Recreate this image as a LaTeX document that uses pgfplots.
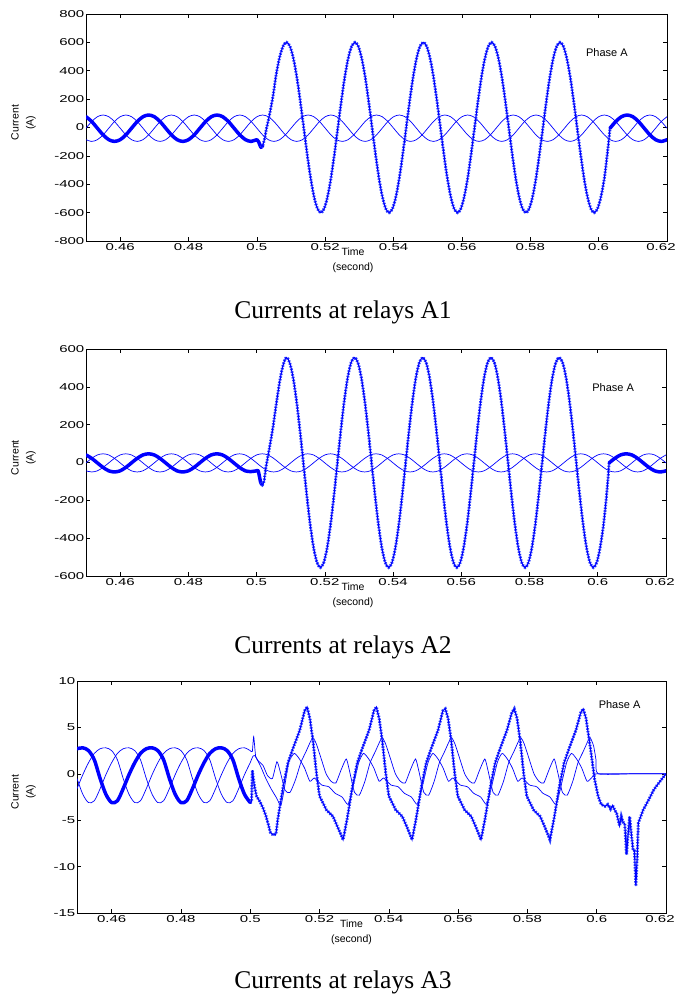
\documentclass[border=0pt]{standalone}
\usepackage{fontspec}
\setmainfont{Liberation Serif}
\setsansfont{Liberation Sans}
\usepackage{graphicx}
\usepackage{pgfplots}
\usepackage{pgfplotstable}
\pgfplotsset{compat=1.18}
\definecolor{pblue}{RGB}{0,0,255}
\definecolor{mblue}{RGB}{50,70,255}
\newcommand{\tl}[1]{\scalebox{1.5}[1]{#1}}

% thin phases B and C, panels A1 and A2
\pgfplotstableread{
t B1 C1 B2 C2
0.45000 -5 -86 -2 -44
0.45167 42 -98 22 -50
0.45333 76 -86 40 -44
0.45500 88 -52 46 -26
0.45667 76 -5 40 -2
0.45833 42 42 22 22
0.46000 -5 76 -2 40
0.46167 -52 88 -26 46
0.46333 -86 76 -44 40
0.46500 -98 42 -50 22
0.46667 -86 -5 -44 -2
0.46833 -52 -52 -26 -26
0.47000 -5 -86 -2 -44
0.47167 42 -98 22 -50
0.47333 76 -86 40 -44
0.47500 88 -52 46 -26
0.47667 76 -5 40 -2
0.47833 42 42 22 22
0.48000 -5 76 -2 40
0.48167 -52 88 -26 46
0.48333 -86 76 -44 40
0.48500 -98 42 -50 22
0.48667 -86 -5 -44 -2
0.48833 -52 -52 -26 -26
0.49000 -5 -86 -2 -44
0.49167 42 -98 22 -50
0.49333 76 -86 40 -44
0.49500 88 -52 46 -26
0.49667 76 -5 40 -2
0.49833 42 42 22 22
0.50000 -5 76 -2 40
0.50167 -52 88 -26 46
0.50333 -86 76 -44 40
0.50500 -98 42 -50 22
0.50667 -86 -5 -44 -2
0.50833 -52 -52 -26 -26
0.51000 -5 -86 -2 -44
0.51167 42 -98 22 -50
0.51333 76 -86 40 -44
0.51500 88 -52 46 -26
0.51667 76 -5 40 -2
0.51833 42 42 22 22
0.52000 -5 76 -2 40
0.52167 -52 88 -26 46
0.52333 -86 76 -44 40
0.52500 -98 42 -50 22
0.52667 -86 -5 -44 -2
0.52833 -52 -52 -26 -26
0.53000 -5 -86 -2 -44
0.53167 42 -98 22 -50
0.53333 76 -86 40 -44
0.53500 88 -52 46 -26
0.53667 76 -5 40 -2
0.53833 42 42 22 22
0.54000 -5 76 -2 40
0.54167 -52 88 -26 46
0.54333 -86 76 -44 40
0.54500 -98 42 -50 22
0.54667 -86 -5 -44 -2
0.54833 -52 -52 -26 -26
0.55000 -5 -86 -2 -44
0.55167 42 -98 22 -50
0.55333 76 -86 40 -44
0.55500 88 -52 46 -26
0.55667 76 -5 40 -2
0.55833 42 42 22 22
0.56000 -5 76 -2 40
0.56167 -52 88 -26 46
0.56333 -86 76 -44 40
0.56500 -98 42 -50 22
0.56667 -86 -5 -44 -2
0.56833 -52 -52 -26 -26
0.57000 -5 -86 -2 -44
0.57167 42 -98 22 -50
0.57333 76 -86 40 -44
0.57500 88 -52 46 -26
0.57667 76 -5 40 -2
0.57833 42 42 22 22
0.58000 -5 76 -2 40
0.58167 -52 88 -26 46
0.58333 -86 76 -44 40
0.58500 -98 42 -50 22
0.58667 -86 -5 -44 -2
0.58833 -52 -52 -26 -26
0.59000 -5 -86 -2 -44
0.59167 42 -98 22 -50
0.59333 76 -86 40 -44
0.59500 88 -52 46 -26
0.59667 76 -5 40 -2
0.59833 42 42 22 22
0.60000 -5 76 -2 40
0.60167 -52 88 -26 46
0.60333 -86 76 -44 40
0.60500 -98 42 -50 22
0.60667 -86 -5 -44 -2
0.60833 -52 -52 -26 -26
0.61000 -5 -86 -2 -44
0.61167 42 -98 22 -50
0.61333 76 -86 40 -44
0.61500 88 -52 46 -26
0.61667 76 -5 40 -2
0.61833 42 42 22 22
0.62000 -5 76 -2 40
}\tabT

% phase A before the fault, panels A1 and A2
\pgfplotstableread{
t A1 A2
0.45000 76 40
0.45167 42 22
0.45333 -5 -2
0.45500 -52 -26
0.45667 -86 -44
0.45833 -98 -50
0.46000 -86 -44
0.46167 -52 -26
0.46333 -5 -2
0.46500 42 22
0.46667 76 40
0.46833 88 46
0.47000 76 40
0.47167 42 22
0.47333 -5 -2
0.47500 -52 -26
0.47667 -86 -44
0.47833 -98 -50
0.48000 -86 -44
0.48167 -52 -26
0.48333 -5 -2
0.48500 42 22
0.48667 76 40
0.48833 88 46
0.49000 76 40
0.49167 42 22
0.49333 -5 -2
0.49500 -52 -26
0.49667 -86 -44
0.49833 -98 -48
0.50000 -86 -44
0.50050 -100 -46
0.50120 -140 -105
0.50170 -125 -118
}\tabPre

% phase A after clearing, panels A1 and A2
\pgfplotstableread{
t A1 A2
0.60333 -5 -2
0.60500 42 22
0.60667 76 40
0.60833 88 46
0.61000 76 40
0.61167 42 22
0.61333 -5 -2
0.61500 -52 -26
0.61667 -86 -44
0.61833 -98 -50
0.62000 -86 -44
}\tabPost

% phase A during the fault, panels A1 and A2
\pgfplotstableread{
t F1 F2
0.50120 -140 -105
0.50170 -125 -118
0.50220 -85 -98
0.50270 -20 -30
0.50370 90 70
0.50470 220 175
0.50570 380 300
0.50670 500 420
0.50770 575 510
0.50870 600 555
0.5097 571 528
0.5107 485 449
0.5117 353 326
0.5127 185 171
0.5137 0 0
0.5147 -185 -171
0.5157 -353 -326
0.5167 -485 -449
0.5177 -571 -528
0.5187 -600 -555
0.5197 -571 -528
0.5207 -485 -449
0.5217 -353 -326
0.5227 -185 -171
0.5237 0 0
0.5247 185 171
0.5257 353 326
0.5267 485 449
0.5277 571 528
0.5287 600 555
0.5297 571 528
0.5307 485 449
0.5317 353 326
0.5327 185 171
0.5337 0 0
0.5347 -185 -171
0.5357 -353 -326
0.5367 -485 -449
0.5377 -571 -528
0.5387 -600 -555
0.5397 -571 -528
0.5407 -485 -449
0.5417 -353 -326
0.5427 -185 -171
0.5437 0 0
0.5447 185 171
0.5457 353 326
0.5467 485 449
0.5477 571 528
0.5487 600 555
0.5497 571 528
0.5507 485 449
0.5517 353 326
0.5527 185 171
0.5537 0 0
0.5547 -185 -171
0.5557 -353 -326
0.5567 -485 -449
0.5577 -571 -528
0.5587 -600 -555
0.5597 -571 -528
0.5607 -485 -449
0.5617 -353 -326
0.5627 -185 -171
0.5637 0 0
0.5647 185 171
0.5657 353 326
0.5667 485 449
0.5677 571 528
0.5687 600 555
0.5697 571 528
0.5707 485 449
0.5717 353 326
0.5727 185 171
0.5737 0 0
0.5747 -185 -171
0.5757 -353 -326
0.5767 -485 -449
0.5777 -571 -528
0.5787 -600 -555
0.5797 -571 -528
0.5807 -485 -449
0.5817 -353 -326
0.5827 -185 -171
0.5837 0 0
0.5847 185 171
0.5857 353 326
0.5867 485 449
0.5877 571 528
0.5887 600 555
0.5897 571 528
0.5907 485 449
0.5917 353 326
0.5927 185 171
0.5937 0 0
0.5947 -185 -171
0.5957 -353 -326
0.5967 -485 -449
0.5977 -571 -528
0.5987 -600 -555
0.5997 -571 -528
0.6007 -485 -449
0.6017 -353 -326
0.6027 -150 -150
0.60333 -5 -2
}\tabF

% panel A3 before the fault
\pgfplotstableread{
t A3 B3 C3
0.45000 2.7 -1.6 -0.5
0.45167 2.8 -0.1 -2.2
0.45333 2.5 1.2 -3.1
0.45500 1.5 2.2 -2.9
0.45667 -0.5 2.7 -1.6
0.45833 -2.2 2.8 -0.1
0.46000 -3.1 2.5 1.2
0.46167 -2.9 1.5 2.2
0.46333 -1.6 -0.5 2.7
0.46500 -0.1 -2.2 2.8
0.46667 1.2 -3.1 2.5
0.46833 2.2 -2.9 1.5
0.47000 2.7 -1.6 -0.5
0.47167 2.8 -0.1 -2.2
0.47333 2.5 1.2 -3.1
0.47500 1.5 2.2 -2.9
0.47667 -0.5 2.7 -1.6
0.47833 -2.2 2.8 -0.1
0.48000 -3.1 2.5 1.2
0.48167 -2.9 1.5 2.2
0.48333 -1.6 -0.5 2.7
0.48500 -0.1 -2.2 2.8
0.48667 1.2 -3.1 2.5
0.48833 2.2 -2.9 1.5
0.49000 2.7 -1.6 -0.5
0.49167 2.8 -0.1 -2.2
0.49333 2.5 1.2 -3.1
0.49500 1.5 2.2 -2.9
0.49667 -0.5 2.7 -1.6
0.49833 -2.2 2.8 -0.1
0.50000 -3.1 2.5 1.2
}\tabPreT

% panel A3, phase A during and after the fault
\pgfplotstableread{
t v
0.5000 -3.1
0.5004 -3.0
0.5006 0.4
0.5012 -1.3
0.5018 -2.4
0.5028 -3.0
0.5037 -3.7
0.5045 -4.5
0.5051 -5.3
0.5058 -6.3
0.5066 -6.6
0.5074 -6.5
0.5080 -4.8
0.5095 -1.4
0.5109 1.2
0.5123 2.7
0.5143 4.7
0.5157 6.8
0.5164 7.2
0.5172 6.0
0.5181 3.6
0.5191 0.1
0.5200 -2.4
0.5220 -3.9
0.5239 -4.6
0.5253 -5.8
0.5268 -7.1
0.5280 -4.8
0.5295 -1.4
0.5309 1.2
0.5323 2.7
0.5343 4.7
0.5357 6.8
0.5364 7.2
0.5372 6.0
0.5381 3.6
0.5391 0.1
0.5400 -2.4
0.5420 -3.9
0.5439 -4.6
0.5453 -5.8
0.5467 -7.1
0.5479 -4.8
0.5494 -1.4
0.5508 1.2
0.5522 2.7
0.5542 4.7
0.5556 6.8
0.5563 7.0
0.5571 6.0
0.5580 3.6
0.5590 0.1
0.5599 -2.4
0.5619 -3.9
0.5638 -4.6
0.5652 -5.8
0.5666 -7.1
0.5678 -4.8
0.5693 -1.4
0.5707 1.2
0.5721 2.7
0.5741 4.7
0.5755 6.6
0.5762 7.0
0.5770 6.0
0.5779 3.6
0.5789 0.1
0.5798 -2.4
0.5818 -3.9
0.5837 -4.6
0.5851 -5.8
0.5865 -7.1
0.5877 -4.8
0.5892 -1.4
0.5906 1.2
0.5920 2.7
0.5940 4.7
0.5954 6.6
0.5961 7.0
0.5969 6.0
0.5977 4.0
0.5985 1.9
0.5994 -0.6
0.6004 -2.4
0.6013 -3.3
0.6024 -3.5
0.6032 -3.3
0.6040 -3.8
0.6046 -3.4
0.6052 -3.9
0.6058 -4.3
0.6062 -5.0
0.6066 -5.6
0.6071 -4.6
0.6076 -5.2
0.6081 -5.4
0.6086 -8.7
0.6090 -6.8
0.6095 -4.6
0.6100 -6.5
0.6105 -8.2
0.6109 -8.3
0.6113 -12.1
0.6117 -8.9
0.6120 -5.3
0.6134 -3.9
0.6150 -2.8
0.6165 -1.7
0.6185 -0.7
0.6200 0.0
}\tabAthree

% panel A3, second phase during the fault
\pgfplotstableread{
t v
0.5000 2.5
0.5006 2.4
0.5010 4.0
0.5016 1.8
0.5026 1.3
0.5037 0.9
0.5050 -0.2
0.5064 -0.5
0.5077 1.3
0.5086 0.3
0.5101 -1.8
0.5115 -2.0
0.5131 -0.6
0.5146 1.2
0.5161 2.4
0.5173 3.4
0.5181 3.9
0.5191 3.2
0.5205 1.6
0.5219 0.0
0.5233 -0.8
0.5247 -1.0
0.5262 0.4
0.5277 1.6
0.5286 0.4
0.5301 -2.0
0.5315 -2.3
0.5331 -0.8
0.5346 1.2
0.5361 2.4
0.5373 3.4
0.5381 3.9
0.5391 3.2
0.5405 1.6
0.5419 0.0
0.5433 -0.8
0.5447 -1.0
0.5462 0.4
0.5477 1.6
0.5486 0.4
0.5501 -2.0
0.5515 -2.3
0.5531 -0.8
0.5546 1.2
0.5561 2.4
0.5573 3.4
0.5581 3.9
0.5591 3.2
0.5605 1.6
0.5619 0.0
0.5633 -0.8
0.5647 -1.0
0.5662 0.4
0.5677 1.6
0.5686 0.4
0.5701 -2.0
0.5715 -2.3
0.5731 -0.8
0.5746 1.2
0.5761 2.4
0.5773 3.4
0.5781 3.9
0.5791 3.2
0.5805 1.6
0.5819 0.0
0.5833 -0.8
0.5847 -1.0
0.5862 0.4
0.5877 1.6
0.5886 0.4
0.5901 -2.0
0.5915 -2.3
0.5931 -0.8
0.5946 1.2
0.5961 2.4
0.5973 3.4
0.5981 3.9
0.5991 3.0
0.5998 1.5
0.6004 0.0
0.6100 0.0
0.6200 0.0
}\tabXthree

% panel A3, third phase during the fault
\pgfplotstableread{
t v
0.5000 1.2
0.5008 1.9
0.5015 1.9
0.5030 0.8
0.5045 -0.5
0.5060 -1.6
0.5076 -2.6
0.5088 -3.4
0.5097 -1.9
0.5111 1.2
0.5127 2.2
0.5142 1.6
0.5157 0.6
0.5172 -0.8
0.5185 -0.45
0.5206 -1.2
0.5227 -1.4
0.5245 -2.1
0.5265 -2.5
0.5282 -3.3
0.5294 -1.8
0.5313 1.2
0.5327 2.2
0.5342 1.6
0.5357 0.6
0.5372 -0.8
0.5385 -0.45
0.5406 -1.2
0.5427 -1.4
0.5445 -2.1
0.5465 -2.5
0.5482 -3.3
0.5494 -1.8
0.5513 1.2
0.5527 2.2
0.5542 1.6
0.5557 0.6
0.5572 -0.8
0.5585 -0.45
0.5606 -1.2
0.5627 -1.4
0.5645 -2.1
0.5665 -2.5
0.5682 -3.3
0.5694 -1.8
0.5713 1.2
0.5727 2.2
0.5742 1.6
0.5757 0.6
0.5772 -0.8
0.5785 -0.45
0.5806 -1.2
0.5827 -1.4
0.5845 -2.1
0.5865 -2.5
0.5882 -3.3
0.5894 -1.8
0.5913 1.2
0.5927 2.2
0.5942 1.6
0.5957 0.6
0.5972 -0.8
0.5985 -0.45
0.6000 0.0
0.6100 0.0
0.6200 0.0
}\tabYthree

\pgfplotsset{
  relay/.style={
    scale only axis, anchor=south west,
    xmin=0.45, xmax=0.62,
    xtick={0.46,0.48,0.50,0.52,0.54,0.56,0.58,0.60,0.62},
    xticklabels={\tl{0.46},\tl{0.48},\tl{0.5},\tl{0.52},\tl{0.54},\tl{0.56},\tl{0.58},\tl{0.6},{\tl{0.62}\kern12pt}},
    tick align=inside, major tick length=4pt,
    tick style={black, line width=0.6pt},
    axis line style={black, line width=0.8pt},
    tick label style={font=\sffamily\fontsize{10}{12}\selectfont},
    xticklabel style={inner sep=2.5pt},
    yticklabel style={inner sep=1.5pt},
    ylabel={Current\\(A)}, xlabel={Time\\(second)},
    label style={font=\sffamily\fontsize{10.5}{15}\selectfont, align=center},
  },
  thinln/.style={pblue, line width=0.7pt, smooth, no markers},
  thinsh/.style={pblue, line width=0.7pt, smooth, tension=0.35, no markers},
  thickln/.style={pblue, line width=3.5pt, smooth, no markers, line cap=round, line join=round},
  beads/.style={mblue, line width=3pt, dash pattern=on 1.4pt off 1.4pt, no markers},
  core/.style={pblue, line width=1.1pt, no markers},
}

\begin{document}
\begin{tikzpicture}
\path[use as bounding box] (0,0) rectangle (677pt,-995pt);

% ---------- A1 ----------
\begin{axis}[relay, at={(86pt,-241pt)}, width=581pt, height=227pt,
  ymin=-800, ymax=800, ytick={-800,-600,-400,-200,0,200,400,600,800},
  yticklabels={\tl{-800},\tl{-600},\tl{-400},\tl{-200},\tl{0},\tl{200},\tl{400},\tl{600},\tl{800}},
  ylabel style={at={(axis description cs:-0.1076,0.522)}, anchor=center},
  xlabel style={at={(axis description cs:0.4596,-0.0859)}, anchor=center}]
\addplot[thinln] table[x=t,y=B1]{\tabT};
\addplot[thinln] table[x=t,y=C1]{\tabT};
\addplot[thickln] table[x=t,y=A1]{\tabPre};
\addplot[beads, smooth] table[x=t,y=F1]{\tabF};
\addplot[core, smooth] table[x=t,y=F1]{\tabF};
\addplot[thickln] table[x=t,y=A1]{\tabPost};
\node[font=\sffamily\fontsize{11}{13}\selectfont] at (axis cs:0.6024,525) {Phase A};
\end{axis}

% ---------- A2 ----------
\begin{axis}[relay, at={(86pt,-576pt)}, width=580pt, height=227pt,
  ymin=-600, ymax=600, ytick={-600,-400,-200,0,200,400,600},
  yticklabels={\tl{-600},\tl{-400},\tl{-200},\tl{0},\tl{200},\tl{400},\tl{600}},
  ylabel style={at={(axis description cs:-0.1078,0.521)}, anchor=center},
  xlabel style={at={(axis description cs:0.4603,-0.0837)}, anchor=center}]
\addplot[thinln] table[x=t,y=B2]{\tabT};
\addplot[thinln] table[x=t,y=C2]{\tabT};
\addplot[thickln] table[x=t,y=A2]{\tabPre};
\addplot[beads, smooth] table[x=t,y=F2]{\tabF};
\addplot[core, smooth] table[x=t,y=F2]{\tabF};
\addplot[thickln] table[x=t,y=A2]{\tabPost};
\node[font=\sffamily\fontsize{11}{13}\selectfont] at (axis cs:0.6045,396) {Phase A};
\end{axis}

% ---------- A3 ----------
\begin{axis}[relay, at={(77pt,-913pt)}, width=589pt, height=232pt,
  ymin=-15, ymax=10, ytick={-15,-10,-5,0,5,10},
  yticklabels={\tl{-15},\tl{-10},\tl{-5},\tl{0},\tl{5},\tl{10}},
  ylabel style={at={(axis description cs:-0.0908,0.5216)}, anchor=center},
  xlabel style={at={(axis description cs:0.466,-0.084)}, anchor=center}]
\addplot[thinln] table[x=t,y=B3]{\tabPreT};
\addplot[thinln] table[x=t,y=C3]{\tabPreT};
\addplot[thinsh] table[x=t,y=v]{\tabXthree};
\addplot[thinsh] table[x=t,y=v]{\tabYthree};
\addplot[thickln] table[x=t,y=A3]{\tabPreT};
\addplot[beads] table[x=t,y=v]{\tabAthree};
\addplot[core] table[x=t,y=v]{\tabAthree};
\node[font=\sffamily\fontsize{11}{13}\selectfont] at (axis cs:0.6066,7.45) {Phase A};
\end{axis}

\node[font=\fontsize{25.5}{30}\selectfont, anchor=base] at (343pt,-318pt) {Currents at relays A1};
\node[font=\fontsize{25.5}{30}\selectfont, anchor=base] at (343pt,-653pt) {Currents at relays A2};
\node[font=\fontsize{25.5}{30}\selectfont, anchor=base] at (343pt,-988pt) {Currents at relays A3};
\end{tikzpicture}
\end{document}
